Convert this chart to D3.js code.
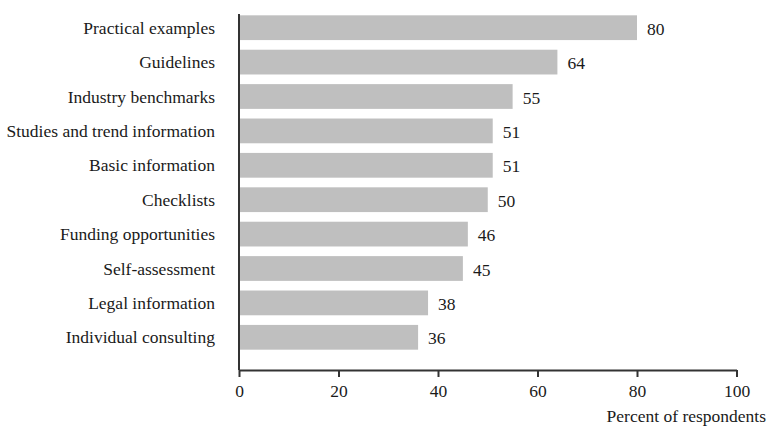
<!DOCTYPE html>
<html>
<head>
<meta charset="utf-8">
<script src="https://cdn.jsdelivr.net/npm/d3@7"></script>
<style>
  html, body { margin: 0; padding: 0; background: #fff; }
</style>
</head>
<body>
<svg id="chart" width="769" height="426"></svg>
<script>
// Information sources rated useful, share of respondents
const categories = [
  "Practical examples",
  "Guidelines",
  "Industry benchmarks",
  "Studies and trend information",
  "Basic information",
  "Checklists",
  "Funding opportunities",
  "Self-assessment",
  "Legal information",
  "Individual consulting"
];
const values = [80, 64, 55, 51, 51, 50, 46, 45, 38, 36];
const xTicks = [0, 20, 40, 60, 80, 100];
const xTitle = "Percent of respondents";

const FONT = "'Liberation Serif', 'Times New Roman', Times, serif";
const FS = 17.5;
const INK = "#1a1a1a";

const svg = d3.select("#chart");
const plotLeft = 239, plotRight = 736.5, axisY = 370, plotTop = 14;

const x = d3.scaleLinear().domain([0, 100]).range([plotLeft, plotRight]);
const y = d3.scaleBand().domain(categories).range([10.5, 354.5])
  .paddingInner(0.28).paddingOuter(0.14);

// bars
svg.append("g").selectAll("rect")
  .data(categories)
  .join("rect")
  .attr("x", x(0))
  .attr("y", d => y(d))
  .attr("width", (d, i) => x(values[i]) - x(0))
  .attr("height", y.bandwidth())
  .attr("fill", "#bfbfbf");

// value labels
svg.append("g").selectAll("text")
  .data(categories)
  .join("text")
  .attr("x", (d, i) => x(values[i]) + 10)
  .attr("y", d => y(d) + y.bandwidth() / 2 + 1)
  .attr("dominant-baseline", "central")
  .attr("font-family", FONT)
  .attr("font-size", FS)
  .attr("fill", INK)
  .text((d, i) => values[i]);

// category labels
svg.append("g").selectAll("text")
  .data(categories)
  .join("text")
  .attr("x", 215)
  .attr("y", d => y(d) + y.bandwidth() / 2)
  .attr("dominant-baseline", "central")
  .attr("text-anchor", "end")
  .attr("font-family", FONT)
  .attr("font-size", FS)
  .attr("fill", INK)
  .text(d => d);

// vertical axis line
svg.append("line")
  .attr("x1", plotLeft).attr("x2", plotLeft)
  .attr("y1", plotTop).attr("y2", axisY)
  .attr("stroke", "#333").attr("stroke-width", 2);

// horizontal axis
const xAxis = d3.axisBottom(x).tickValues(xTicks).tickSize(7).tickSizeOuter(0).tickPadding(8);
const gx = svg.append("g").attr("transform", `translate(0,${axisY})`).call(xAxis);
gx.select(".domain").attr("stroke", "#333").attr("stroke-width", 2);
gx.selectAll(".tick line").attr("stroke", "#333").attr("stroke-width", 2);
gx.selectAll(".tick text")
  .attr("font-size", FS)
  .attr("font-family", FONT)
  .attr("fill", INK);

svg.append("text")
  .attr("x", 766)
  .attr("y", 416)
  .attr("dominant-baseline", "central")
  .attr("text-anchor", "end")
  .attr("font-family", FONT)
  .attr("font-size", FS)
  .attr("fill", INK)
  .text(xTitle);
</script>
</body>
</html>
